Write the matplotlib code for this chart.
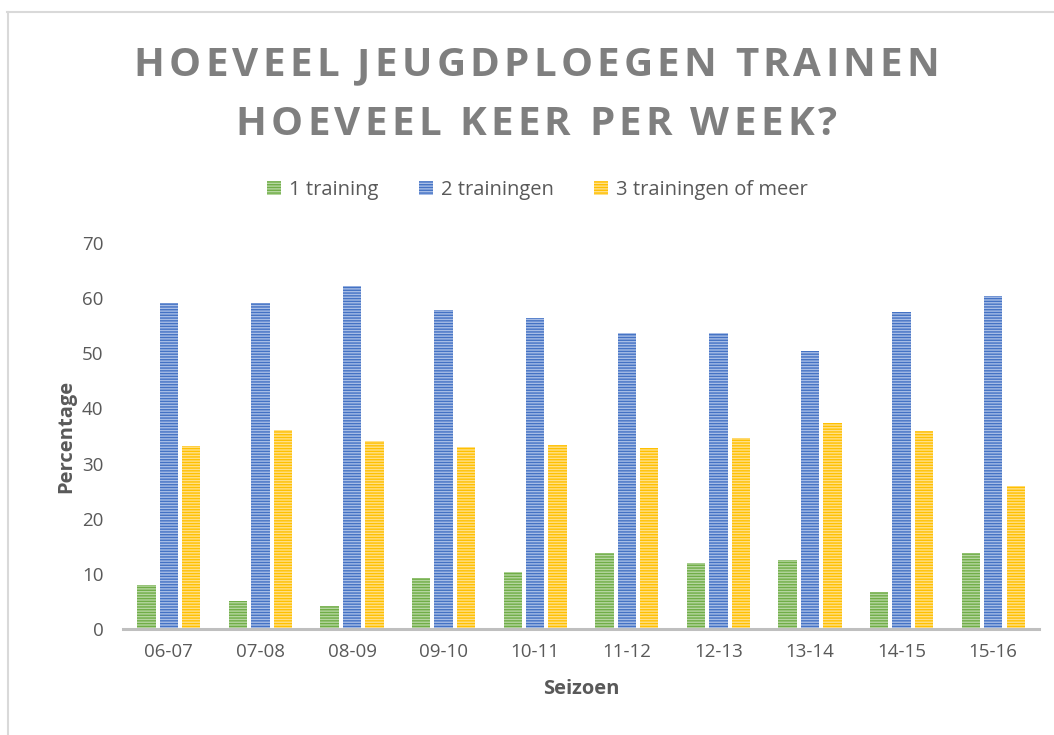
import matplotlib.pyplot as plt
import numpy as np
from matplotlib.lines import Line2D

plt.rcParams['font.family'] = ['Open Sans', 'DejaVu Sans']

seizoenen = ["06-07", "07-08", "08-09", "09-10", "10-11", "11-12", "12-13", "13-14", "14-15", "15-16"]
een = [8.0, 5.1, 4.2, 9.2, 10.3, 13.8, 12.0, 12.5, 6.7, 13.8]
twee = [59.1, 59.1, 62.2, 57.9, 56.4, 53.7, 53.7, 50.4, 57.5, 60.4]
drie = [33.2, 36.1, 34.1, 33.0, 33.4, 32.8, 34.6, 37.4, 35.9, 25.9]
labels = ["1 training", "2 trainingen", "3 trainingen of meer"]
kleuren = ["#70ad47", "#4472c4", "#ffc000"]
licht = ["#b5d6a0", "#a7bde6", "#ffe08a"]
titel = ["HOEVEEL JEUGDPLOEGEN TRAINEN", "HOEVEEL KEER PER WEEK?"]

fig = plt.figure(figsize=(10.54, 7.35), dpi=100)
ax = fig.add_axes([0.1167, 0.1442, 0.8691, 0.5252])

x = np.arange(len(seizoenen))
w = 0.2
offs = [-0.245, 0, 0.245]
for i, vals in enumerate([een, twee, drie]):
    ax.bar(x + offs[i], vals, w, facecolor=licht[i], edgecolor=kleuren[i],
           hatch='------', linewidth=0, label=labels[i])

ax.set_xlim(-0.5, 9.5)
ax.set_ylim(0, 70)
ax.set_yticks(range(0, 71, 10))
ax.set_xticks(x)
ax.set_xticklabels(seizoenen)
ax.tick_params(length=0, labelsize=13.5, colors='#595959', pad=10)
ax.tick_params(axis='y', pad=14)
for s in ['top', 'right', 'left']:
    ax.spines[s].set_visible(False)
ax.spines['bottom'].set_color('#bfbfbf')
ax.spines['bottom'].set_linewidth(2.2)

ax.set_xlabel("Seizoen", fontsize=14.5, fontweight='bold', color='#595959', labelpad=13)
ax.set_ylabel("Percentage", fontsize=14.5, fontweight='bold', color='#595959', labelpad=4)


# title with letter spacing, placed char by char
def spaced_text(s, xc, yb, size, spacing):
    r = fig.canvas.get_renderer()
    parts = []
    for ch in s:
        t = fig.text(0, yb, ch, fontsize=size, fontweight='bold', color='#7f7f7f',
                     va='baseline', ha='left')
        wpx = t.get_window_extent(r).width
        if ch == ' ':
            wpx = size * 0.35
        parts.append((t, wpx))
    total = sum(p[1] for p in parts) + spacing * (len(parts) - 1)
    cur = xc * fig.bbox.width - total / 2
    for t, wpx in parts:
        t.set_x(cur / fig.bbox.width)
        cur += wpx + spacing


spaced_text(titel[0], 0.509, 1 - 76 / 735, 29, 4.2)
spaced_text(titel[1], 0.509, 1 - 135 / 735, 29, 4.2)

leg = fig.legend(loc='center', bbox_to_anchor=(0.51, 0.742), ncol=3, frameon=False,
                 fontsize=14.5, handlelength=0.7, handleheight=0.7, columnspacing=2.0,
                 handletextpad=0.4)
for t in leg.get_texts():
    t.set_color('#595959')

fig.add_artist(Line2D([0.007, 1.0], [1 - 11.5 / 735] * 2, color='#d9d9d9', lw=1.5))
fig.add_artist(Line2D([0.0075] * 2, [0, 1 - 11.5 / 735], color='#d9d9d9', lw=1.5))

fig.savefig("out.png", dpi=100)
